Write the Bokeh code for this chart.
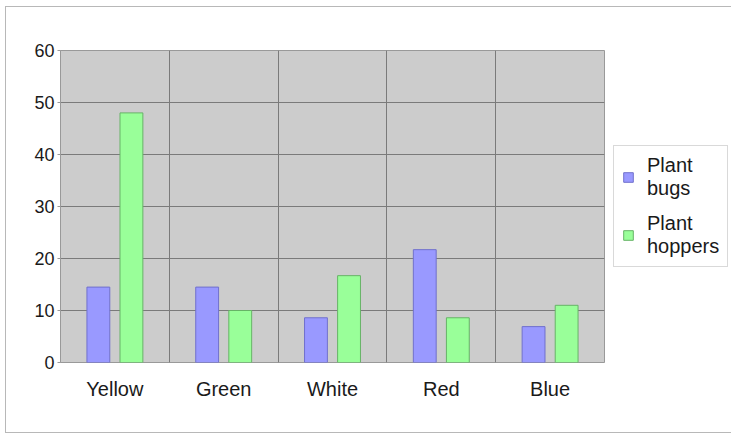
import numpy as np
from bokeh.plotting import figure
from bokeh.models import FixedTicker, Legend, LegendItem
from bokeh.embed import file_html
from bokeh.resources import INLINE

# Insect counts per trap colour
categories = ["Yellow", "Green", "White", "Red", "Blue"]
plant_bugs = [14.5, 14.5, 8.6, 21.7, 6.9]
plant_hoppers = [48, 10, 16.7, 8.6, 11]
y_ticks = [0, 10, 20, 30, 40, 50, 60]

n = len(categories)
centers = np.arange(n) + 0.5
offset = 0.152
bar_w = 0.21

p = figure(frame_width=544, frame_height=312, x_range=(0, n), y_range=(0, 60),
           output_backend="svg", toolbar_location=None,
           min_border_left=54, min_border_top=43, min_border_right=0,
           min_border_bottom=70)
p.styles = {"margin-left": "5px", "margin-top": "6px",
            "border-left": "1px solid #b8b8b8", "border-top": "1px solid #b8b8b8",
            "border-bottom": "1px solid #b8b8b8"}

p.background_fill_color = "#cccccc"
p.border_fill_color = "white"
p.outline_line_color = "#999999"

# grid: horizontal at value ticks, vertical between categories
p.ygrid.ticker = FixedTicker(ticks=y_ticks)
p.ygrid.grid_line_color = "#7a7a7a"
p.xgrid.ticker = FixedTicker(ticks=list(range(1, n)))
p.xgrid.grid_line_color = "#7a7a7a"

r1 = p.vbar(x=centers - offset, top=plant_bugs, width=bar_w, bottom=0,
            fill_color="#9999ff", line_color="#7070cc", line_width=1)
r2 = p.vbar(x=centers + offset, top=plant_hoppers, width=bar_w, bottom=0,
            fill_color="#99ff99", line_color="#66b366", line_width=1)

# axes
p.yaxis.ticker = FixedTicker(ticks=y_ticks)
p.yaxis.minor_tick_line_color = None
p.yaxis.major_tick_in = 0
p.yaxis.major_tick_out = 3
p.yaxis.major_tick_line_color = "#999999"
p.yaxis.axis_line_color = "#999999"
p.yaxis.major_label_text_font = "Liberation Sans"
p.yaxis.major_label_text_font_size = "18px"
p.yaxis.major_label_text_color = "#1a1a1a"
p.yaxis.major_label_standoff = 3

p.xaxis.ticker = FixedTicker(ticks=list(centers))
p.xaxis.major_label_overrides = {float(c): lab for c, lab in zip(centers, categories)}
p.xaxis.major_tick_line_color = None
p.xaxis.minor_tick_line_color = None
p.xaxis.axis_line_color = None
p.xaxis.major_label_text_font = "Liberation Sans"
p.xaxis.major_label_text_font_size = "20px"
p.xaxis.major_label_text_color = "#1a1a1a"
p.xaxis.major_label_standoff = 9

legend = Legend(items=[LegendItem(label="Plant\nbugs", renderers=[r1]),
                       LegendItem(label="Plant\nhoppers", renderers=[r2])],
                location="left")
legend.label_text_font = "Liberation Sans"
legend.label_text_font_size = "20px"
legend.label_text_color = "#1a1a1a"
legend.glyph_width = 12
legend.glyph_height = 12
legend.label_standoff = 13
legend.padding = 8
legend.spacing = 12
legend.margin = 9
legend.border_line_color = "#b3b3b3"
legend.background_fill_color = "white"
legend.background_fill_alpha = 1
p.add_layout(legend, "right")

open("out.html", "w").write(file_html(p, INLINE))
